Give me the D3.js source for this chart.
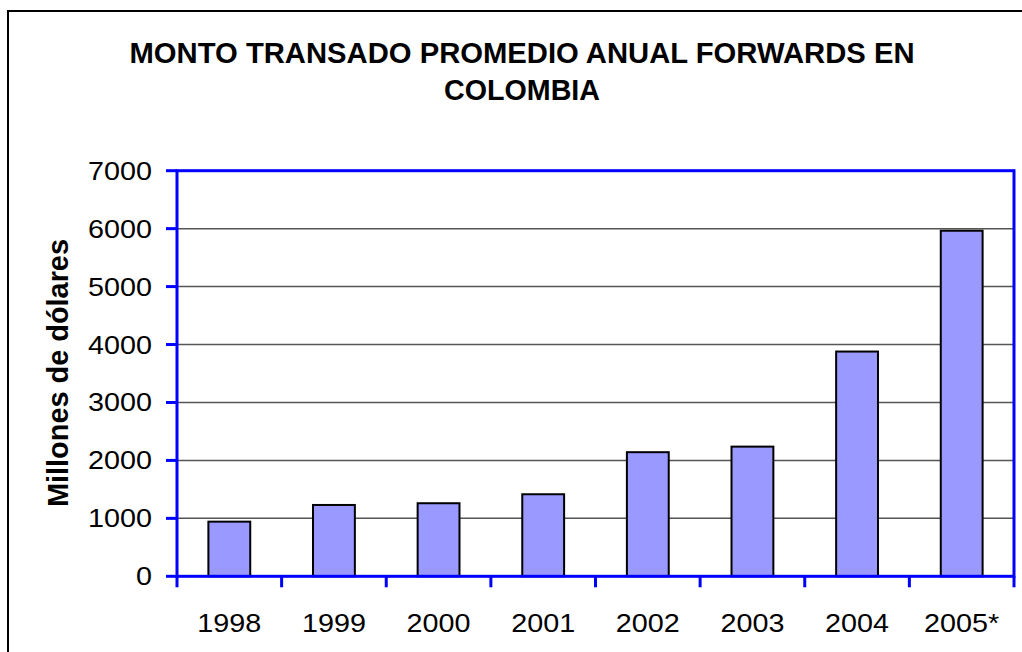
<!DOCTYPE html>
<html>
<head>
<meta charset="utf-8">
<script src="https://cdn.jsdelivr.net/npm/d3@7"></script>
<style>
  html, body { margin: 0; padding: 0; background: #fff; }
  svg { display: block; }
  text { font-family: "Liberation Sans", Arial, sans-serif; fill: #000; }
</style>
</head>
<body>
<svg id="chart" width="1022" height="652"></svg>
<script>
// Annual average forward volume traded in Colombia (USD millions)
const years = ["1998", "1999", "2000", "2001", "2002", "2003", "2004", "2005*"];
const amounts = [943, 1231, 1261, 1416, 2142, 2238, 3879, 5964];
const yTicks = [0, 1000, 2000, 3000, 4000, 5000, 6000, 7000];
const titleLines = ["MONTO TRANSADO PROMEDIO ANUAL FORWARDS EN", "COLOMBIA"];
const yTitle = "Millones de dólares";

const svg = d3.select("#chart");
const W = 1022, H = 652;
const plot = { left: 177, right: 1014, top: 170.7, bottom: 576.3 };
const sx = 1.15; // horizontal stretch of labels

// outer frame
svg.append("rect")
  .attr("x", 8).attr("y", 11)
  .attr("width", W + 10).attr("height", H + 10)
  .attr("fill", "#fff").attr("stroke", "#000").attr("stroke-width", 2);

const x = d3.scaleBand().domain(years)
  .range([plot.left, plot.right])
  .paddingInner(0.6).paddingOuter(0.3);
const y = d3.scaleLinear().domain([0, 7000]).range([plot.bottom, plot.top]);
const step = x.step();

// gridlines
svg.append("g").selectAll("line")
  .data(yTicks.filter(v => v > 0 && v < 7000))
  .join("line")
  .attr("x1", plot.left).attr("x2", plot.right)
  .attr("y1", d => y(d)).attr("y2", d => y(d))
  .attr("stroke", "#555").attr("stroke-width", 1.5);

// bars
svg.append("g").selectAll("rect")
  .data(years.map((c, i) => ({ c, v: amounts[i] })))
  .join("rect")
  .attr("x", d => x(d.c))
  .attr("width", x.bandwidth())
  .attr("y", d => y(d.v))
  .attr("height", d => y(0) - y(d.v))
  .attr("fill", "#9999FF")
  .attr("stroke", "#000").attr("stroke-width", 2);

// plot area border
svg.append("rect")
  .attr("x", plot.left).attr("y", plot.top)
  .attr("width", plot.right - plot.left)
  .attr("height", plot.bottom - plot.top)
  .attr("fill", "none").attr("stroke", "#0000FF").attr("stroke-width", 3);

// y axis ticks and labels
const yAxis = svg.append("g");
yAxis.selectAll("line").data(yTicks).join("line")
  .attr("x1", plot.left - 11).attr("x2", plot.left)
  .attr("y1", d => y(d)).attr("y2", d => y(d))
  .attr("stroke", "#0000FF").attr("stroke-width", 3);
yAxis.selectAll("text").data(yTicks).join("text")
  .attr("transform", d => `translate(${plot.left - 25},${y(d) + 9}) scale(${sx},1)`)
  .attr("text-anchor", "end")
  .attr("font-size", 25)
  .text(d => d);

// x axis ticks at category boundaries
const bounds = d3.range(years.length + 1).map(i => plot.left + i * step);
svg.append("g").selectAll("line").data(bounds).join("line")
  .attr("x1", d => d).attr("x2", d => d)
  .attr("y1", plot.bottom).attr("y2", plot.bottom + 11)
  .attr("stroke", "#0000FF").attr("stroke-width", 3);
svg.append("g").selectAll("text").data(years).join("text")
  .attr("transform", d => `translate(${x(d) + x.bandwidth() / 2},632) scale(${sx},1)`)
  .attr("text-anchor", "middle")
  .attr("font-size", 25)
  .text(d => d);

// y axis title
svg.append("text")
  .attr("transform", `translate(68,373) rotate(-90)`)
  .attr("text-anchor", "middle")
  .attr("font-size", 30).attr("font-weight", "bold")
  .attr("textLength", 268)
  .attr("lengthAdjust", "spacingAndGlyphs")
  .text(yTitle);

// chart title
svg.append("g").selectAll("text").data(titleLines).join("text")
  .attr("x", 522).attr("y", (d, i) => 63 + i * 37)
  .attr("text-anchor", "middle")
  .attr("font-size", 29).attr("font-weight", "bold")
  .attr("textLength", (d, i) => i === 0 ? 785 : 156)
  .attr("lengthAdjust", "spacingAndGlyphs")
  .text(d => d);
</script>
</body>
</html>
